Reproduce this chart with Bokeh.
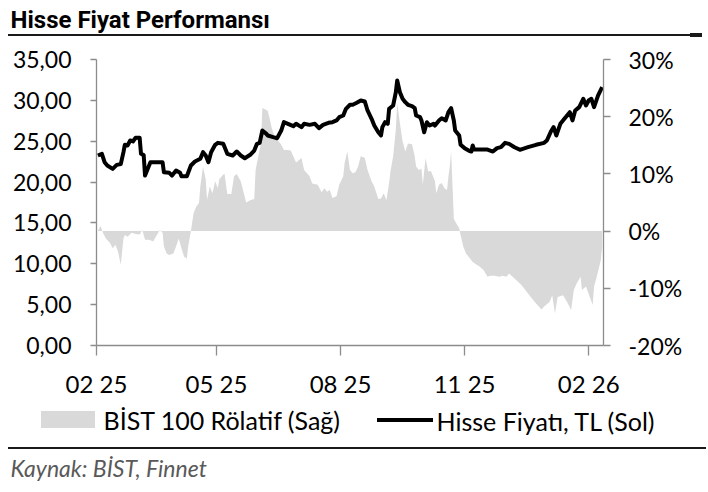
import pandas as pd
from bokeh.plotting import figure
from bokeh.models import (Range1d, LinearAxis, FixedTicker, DatetimeTickFormatter, Title)
from bokeh.embed import file_html
from bokeh.resources import INLINE

# ---------------- data ----------------
START_DATE = "2025-02-01"
X_END_DATE = "2026-02-12"

# Hisse Fiyatı, TL (Sol) – day offsets from START_DATE and closing prices
price_days = [1, 4, 6, 8, 12, 15, 18, 20, 21, 23,
              25, 27, 29, 32, 33, 35, 36, 38, 40, 44,
              49, 50, 54, 56, 59, 62, 63, 67, 70, 73,
              77, 79, 81, 83, 85, 88, 90, 94, 97, 101,
              104, 107, 110, 114, 117, 119, 121, 123, 126, 127,
              131, 134, 137, 139, 142, 146, 148, 152, 154, 158,
              162, 165, 168, 172, 175, 178, 180, 183, 185, 188,
              190, 193, 196, 199, 201, 204, 206, 209, 211, 212,
              214, 216, 217, 220, 222, 223, 225, 227, 229, 231,
              234, 236, 237, 240, 241, 243, 245, 247, 250, 251,
              254, 256, 259, 261, 263, 265, 266, 269, 270, 273,
              276, 278, 279, 280, 285, 290, 294, 297, 300, 303,
              306, 310, 314, 320, 326, 332, 334, 337, 339, 341,
              344, 347, 351, 353, 355, 358, 361, 363, 365, 367,
              369, 372, 375]
price_values = [23.25, 23.46, 22.43, 22.03, 21.62, 22.10, 22.20, 23.66, 24.56, 24.48,
                25.09, 24.97, 25.42, 25.42, 23.46, 23.30, 20.80, 21.62, 22.43, 22.43,
                22.43, 21.21, 21.13, 20.80, 21.42, 21.13, 20.72, 20.72, 22.03, 22.52,
                22.85, 23.66, 23.25, 22.43, 23.66, 24.56, 24.80, 24.68, 23.46, 23.25,
                23.74, 23.25, 22.92, 23.34, 23.86, 24.68, 24.80, 26.31, 25.90, 25.70,
                25.50, 25.37, 26.31, 27.33, 27.13, 26.84, 27.13, 26.72, 27.13, 27.00,
                27.13, 26.60, 27.00, 27.25, 27.33, 27.54, 27.94, 28.15, 28.96, 29.46,
                29.46, 29.70, 29.98, 29.86, 28.76, 27.74, 26.92, 26.10, 25.70, 26.72,
                27.33, 27.13, 28.96, 29.37, 31.00, 32.43, 31.00, 30.19, 29.78, 29.46,
                29.29, 29.04, 28.15, 27.94, 27.54, 26.10, 27.33, 26.92, 27.13, 26.92,
                27.54, 27.82, 27.54, 28.55, 29.04, 27.54, 26.31, 25.70, 24.56, 24.15,
                23.86, 23.74, 24.48, 23.98, 23.98, 23.98, 23.74, 24.15, 24.27, 24.80,
                24.68, 24.27, 23.95, 24.27, 24.56, 24.80, 25.09, 26.19, 26.72, 25.70,
                27.13, 27.74, 28.55, 27.54, 28.76, 29.17, 30.19, 29.37, 29.98, 30.19,
                29.17, 30.60, 31.62]

# BİST 100 Rölatif (Sağ) – day offsets and relative performance in %
rel_days = [1, 3, 5, 7, 10, 12, 14, 16, 18, 20,
            21, 23, 26, 29, 32, 34, 36, 39, 42, 44,
            47, 49, 50, 52, 54, 57, 59, 61, 63, 65,
            67, 68, 70, 72, 74, 76, 77, 79, 81, 82,
            84, 86, 88, 90, 91, 94, 95, 97, 100, 102,
            104, 107, 109, 111, 114, 117, 118, 120, 122, 123,
            125, 127, 128, 130, 132, 134, 137, 139, 142, 144,
            146, 148, 152, 154, 158, 160, 164, 167, 169, 171,
            173, 175, 178, 180, 183, 184, 186, 188, 190, 192,
            194, 196, 199, 201, 204, 206, 209, 211, 213, 215,
            217, 218, 220, 222, 223, 225, 227, 229, 231, 234,
            236, 237, 239, 241, 242, 244, 246, 248, 251, 252,
            254, 256, 258, 260, 261, 262, 263, 265, 266, 269,
            270, 272, 274, 277, 279, 282, 284, 287, 290, 292,
            295, 299, 301, 304, 306, 310, 315, 320, 325, 330,
            332, 336, 338, 340, 342, 346, 349, 352, 354, 356,
            359, 360, 363, 365, 368, 369, 371, 374, 375]
rel_values = [0.0, 0.9, -0.4, -1.3, -2.1, -3.0, -2.4, -3.6, -5.9, -1.3,
              -0.7, -1.0, -0.3, -0.5, -0.6, 0.2, -1.5, -1.5, -1.8, -1.0,
              0.2, -0.3, -2.7, -3.9, -4.2, -3.9, -2.7, -1.3, -3.0, -4.5,
              -4.8, -2.7, 0.0, 3.1, 4.3, 4.9, 7.8, 11.3, 9.0, 5.5,
              7.8, 6.6, 8.7, 7.5, 9.0, 9.9, 10.0, 6.5, 6.5, 9.6,
              10.0, 8.7, 6.9, 5.0, 5.4, 5.6, 10.7, 13.1, 15.4, 21.5,
              21.3, 21.0, 20.1, 18.0, 16.6, 16.0, 15.1, 14.2, 14.2, 14.1,
              13.1, 12.0, 12.8, 10.7, 9.6, 8.3, 8.1, 6.8, 7.5, 6.9,
              7.2, 5.8, 6.1, 8.1, 9.6, 11.9, 13.9, 10.7, 10.1, 10.3,
              11.3, 13.1, 12.8, 10.7, 8.7, 7.8, 5.6, 5.7, 6.6, 5.4,
              8.4, 10.4, 13.1, 17.8, 22.4, 18.9, 15.7, 13.9, 15.3, 15.2,
              13.1, 11.3, 10.7, 10.9, 8.1, 12.8, 10.4, 10.5, 8.7, 6.6,
              8.1, 8.4, 7.5, 7.2, 9.6, 11.3, 13.9, 2.2, 1.7, 0.5,
              -0.7, -2.7, -3.9, -4.8, -5.4, -5.9, -6.2, -6.8, -8.0, -7.8,
              -7.8, -8.0, -7.8, -8.0, -7.4, -8.3, -9.4, -10.9, -12.4, -13.7,
              -13.2, -12.4, -11.2, -14.4, -11.5, -11.2, -12.4, -13.8, -10.3, -9.2,
              -8.0, -10.3, -9.7, -11.0, -12.9, -9.7, -8.0, -5.1, -2.7]

x_tick_dates = ["2025-02-01", "2025-05-01", "2025-08-01", "2025-11-01", "2026-02-01"]
left_ticks = [0, 5, 10, 15, 20, 25, 30, 35]
left_tick_labels = ["0,00", "5,00", "10,00", "15,00", "20,00", "25,00", "30,00", "35,00"]
right_ticks = [-20, -10, 0, 10, 20, 30]
right_tick_labels = ["-20%", "-10%", "0%", "10%", "20%", "30%"]

TITLE = "Hisse Fiyat Performansı"
SOURCE = "Kaynak: BİST, Finnet"
LABEL_REL = "BİST 100 Rölatif (Sağ)"
LABEL_PRICE = "Hisse Fiyatı, TL (Sol)"

# ---------------- build ----------------
start = pd.Timestamp(START_DATE)
price_dates = start + pd.to_timedelta(price_days, unit="D")
rel_dates = start + pd.to_timedelta(rel_days, unit="D")

FONT = "Lato"
AXIS_GRAY = "#8c8c8c"
AREA_GRAY = "#d9d9d9"
RULE = "#1a1a1a"

p = figure(width=706, height=490, frame_width=507, frame_height=286,
           x_axis_type="datetime",
           x_range=Range1d(pd.Timestamp(START_DATE), pd.Timestamp(X_END_DATE)),
           y_range=Range1d(0, 35),
           output_backend="svg", toolbar_location=None,
           min_border_left=96, min_border_right=103,
           min_border_top=59, min_border_bottom=145)
p.extra_y_ranges = {"rel": Range1d(-20, 30)}
p.outline_line_color = None
p.xgrid.visible = False
p.ygrid.visible = False
p.background_fill_color = "white"
p.border_fill_color = None
# page rules and legend swatches (decoration drawn by CSS behind the transparent border)
p.styles = {"background": (
    f"linear-gradient({RULE},{RULE}) 8px 34px / 684px 2px no-repeat, "
    f"linear-gradient({RULE},{RULE}) 690px 33px / 12px 4px no-repeat, "
    f"linear-gradient({AREA_GRAY},{AREA_GRAY}) 41px 411px / 54px 17px no-repeat, "
    f"linear-gradient(#000000,#000000) 377px 418px / 56px 4px no-repeat, "
    f"linear-gradient({RULE},{RULE}) 8px 447px / 698px 2px no-repeat, #ffffff")}

area = p.varea(x=rel_dates, y1=0, y2=rel_values, y_range_name="rel",
               fill_color=AREA_GRAY)
line = p.line(x=price_dates, y=price_values, line_color="black",
              line_width=4, line_join="round")


def style_axis(ax, tick_out, size="24px"):
    ax.axis_line_color = AXIS_GRAY
    ax.axis_line_width = 1.3
    ax.major_tick_line_color = AXIS_GRAY
    ax.major_tick_line_width = 1.3
    ax.major_tick_in = 0
    ax.major_tick_out = tick_out
    ax.minor_tick_line_color = None
    ax.major_label_text_font = FONT
    ax.major_label_text_font_size = size
    ax.major_label_text_color = "black"


xax = p.xaxis[0]
xax.ticker = FixedTicker(ticks=[pd.Timestamp(d).value / 1e6 for d in x_tick_dates])
xax.formatter = DatetimeTickFormatter(days="%m %y", months="%m %y", years="%m %y")
style_axis(xax, 10)
xax.major_label_standoff = 13

yax = p.yaxis[0]
yax.ticker = FixedTicker(ticks=left_ticks)
yax.major_label_overrides = {t: s for t, s in zip(left_ticks, left_tick_labels)}
style_axis(yax, 6, "23px")
yax.major_label_standoff = 19

rax = LinearAxis(y_range_name="rel", ticker=FixedTicker(ticks=right_ticks))
rax.major_label_overrides = {t: s for t, s in zip(right_ticks, right_tick_labels)}
style_axis(rax, 7, "23px")
rax.major_label_standoff = 18
p.add_layout(rax, "right")

# below panel: spacer, two legend labels on one row, spacer, source
p.add_layout(Title(text=" ", text_font_size="12px", standoff=3), "below")
for label, off in [(LABEL_REL, 7), (LABEL_PRICE, 340)]:
    p.add_layout(Title(text=label, align="left", offset=off, standoff=-31,
                       vertical_align="middle", text_font=FONT,
                       text_font_style="normal", text_font_size="25px",
                       text_color="black"), "below")
p.add_layout(Title(text=" ", text_font_size="12px", standoff=14), "below")
p.add_layout(Title(text=SOURCE, align="left", offset=-86, standoff=0,
                   text_font=FONT, text_font_style="italic",
                   text_font_size="23px", text_color="#595959"), "below")

# title (outermost above), pushed up by a blank spacer next to the frame
p.add_layout(Title(text=" ", text_font_size="12px", standoff=10), "above")
p.title = Title(text=TITLE, align="left", offset=-86, standoff=0,
                text_font="Roboto", text_font_style="bold",
                text_font_size="24px", text_color="black")

open("out.html", "w").write(file_html(p, INLINE))
